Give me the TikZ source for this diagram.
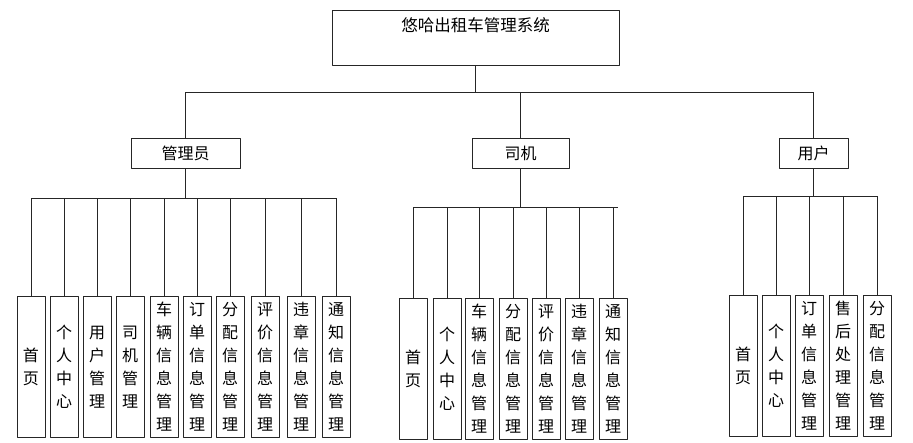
\documentclass[tikz,border=0pt]{standalone}
\usepackage{fontspec}
\setmainfont{Noto Sans CJK SC}
\begin{document}
\begin{tikzpicture}[x=1pt,y=-1pt,line join=round]
\tikzset{box/.style={draw=black!85,line width=0.8pt,inner sep=0pt,font=\fontsize{16}{23}\selectfont},
  leaf/.style={box,anchor=north,minimum width=28pt,minimum height=141pt,align=center},
  link/.style={draw=black!85,line width=0.8pt}}
\useasboundingbox (0,0) rectangle (913,442);
% root
\node[box,minimum width=287pt,minimum height=55pt] (root) at (475.5,37.5) {};
\node[font=\fontsize{16.5}{18}\selectfont] (title) at ([yshift=-16pt]root.north) {悠哈出租车管理系统};
% second level
\node[box,minimum width=109pt,minimum height=30pt] (adm) at (185.5,153) {管理员};
\node[box,minimum width=97pt,minimum height=30pt] (drv) at (520.5,153) {司机};
\node[box,minimum width=69pt,minimum height=30pt] (usr) at (813.5,153) {用户};
% leaves
\foreach \x/\n/\t in {31/a1/{首\\页},64/a2/{个\\人\\中\\心},97/a3/{用\\户\\管\\理},130/a4/{司\\机\\管\\理},
  164/a5/{车\\辆\\信\\息\\管\\理},197/a6/{订\\单\\信\\息\\管\\理},230/a7/{分\\配\\信\\息\\管\\理},
  265/a8/{评\\价\\信\\息\\管\\理},301/a9/{违\\章\\信\\息\\管\\理},336/a10/{通\\知\\信\\息\\管\\理}}
  \node[leaf] (\n) at (\x,296) {\t};
\foreach \x/\n/\t in {413/d1/{首\\页},447/d2/{个\\人\\中\\心},479/d3/{车\\辆\\信\\息\\管\\理},
  513/d4/{分\\配\\信\\息\\管\\理},546/d5/{评\\价\\信\\息\\管\\理},579/d6/{违\\章\\信\\息\\管\\理},
  613/d7/{通\\知\\信\\息\\管\\理}}
  \node[leaf] (\n) at (\x,298) {\t};
\foreach \x/\n/\t in {743/u1/{首\\页},776/u2/{个\\人\\中\\心},809/u3/{订\\单\\信\\息\\管\\理},
  843/u4/{售\\后\\处\\理\\管\\理},877/u5/{分\\配\\信\\息\\管\\理}}
  \node[leaf] (\n) at (\x,295) {\t};
% connectors
\coordinate (rbus) at (0,92);
\coordinate (abus) at (0,198);
\coordinate (dbus) at (0,207);
\coordinate (ubus) at (0,196);
\draw[link] (root.south) -- (root.south |- rbus);
\draw[link] (adm.north |- rbus) -- (usr.north |- rbus);
\foreach \n in {adm,drv,usr}
  \draw[link] (\n.north |- rbus) -- (\n.north);
\draw[link] (adm.south) -- (adm.south |- abus);
\draw[link] (a1.north |- abus) -- (a10.north |- abus);
\foreach \i in {1,...,10}
  \draw[link] (a\i.north |- abus) -- (a\i.north);
\draw[link] (drv.south) -- (drv.south |- dbus);
\draw[link] (d1.north |- dbus) -- ([xshift=5pt]d7.north |- dbus);
\foreach \i in {1,...,7}
  \draw[link] (d\i.north |- dbus) -- (d\i.north);
\draw[link] (usr.south) -- (usr.south |- ubus);
\draw[link] (u1.north |- ubus) -- (u5.north |- ubus);
\foreach \i in {1,...,5}
  \draw[link] (u\i.north |- ubus) -- (u\i.north);
\end{tikzpicture}
\end{document}
